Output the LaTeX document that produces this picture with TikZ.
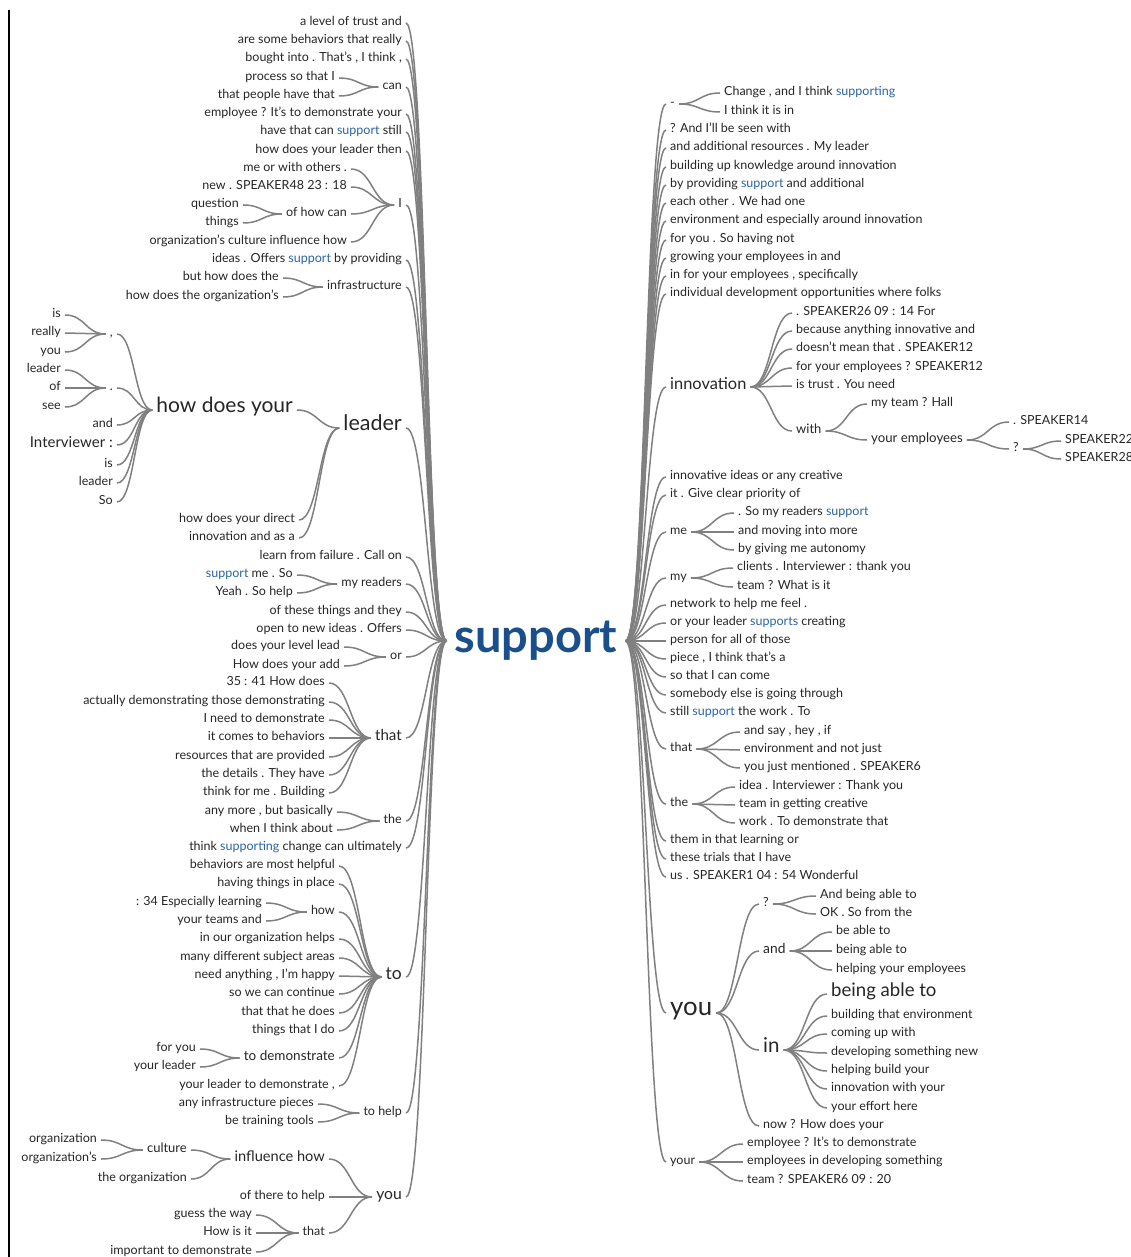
\documentclass[tikz,border=0pt]{standalone}
\usepackage{fontspec}
\setmainfont{Lato}
\usetikzlibrary{calc}
\definecolor{ink}{HTML}{262626}
\definecolor{hubblue}{HTML}{1B4F8C}
\definecolor{hlblue}{HTML}{2A64A4}
\definecolor{edgegray}{HTML}{808080}
\newcommand\hl[1]{\textcolor{hlblue}{#1}}
% S-shaped branch between two anchors, horizontal tangents at both ends
\newcommand\wl[2]{\draw[branch] let \p1=(#1), \p2=(#2) in (\p1) .. controls ({(\x1+\x2)/2},\y1) and ({(\x1+\x2)/2},\y2) .. (\p2);}
\tikzset{
  base/.style={inner xsep=4pt, inner ysep=0pt, text=ink, text height=0.72em, text depth=0.2em, font=\fontsize{12.5}{12.5}\selectfont},
  L/.style={base, anchor=east},
  R/.style={base, anchor=west},
  sz/.style={font=\fontsize{#1}{#1}\selectfont},
  branch/.style={draw=edgegray, line width=1.5pt},
}
\begin{document}
\begin{tikzpicture}[x=1pt,y=-1pt]
\fill[white] (0,0) rectangle (1131,1257);
\useasboundingbox (0,0) rectangle (1131,1257);
\draw[line width=1.5pt] (9,10) -- (9,1257);

% root
\node[inner xsep=8pt, inner ysep=0pt, text=hubblue, font=\fontsize{47}{47}\selectfont\bfseries] (S) at (536,641) {support};

% ---------------- left side ----------------
\node[L] (a1) at (406,23) {a level of trust and};
\node[L] (a2) at (406,41) {are some behaviors that really};
\node[L] (a3) at (406,59) {bought into . That's , I think ,};
\node[L] (can) at (406,87) {can};
\node[L] (can1) at (339,78) {process so that I};
\node[L] (can2) at (339,96) {that people have that};
\node[L] (a4) at (406,114) {employee ? It's to demonstrate your};
\node[L] (a5) at (406,132) {have that can \hl{support} still};
\node[L] (a6) at (406,151) {how does your leader then};
\node[L] (I) at (406,205) {I};
\node[L] (I1) at (351,169) {me or with others .};
\node[L] (I2) at (351,187) {new . SPEAKER48 23 : 18};
\node[L] (ohc) at (351,214) {of how can};
\node[L] (ohc1) at (243,205) {question};
\node[L] (ohc2) at (243,223) {things};
\node[L] (I4) at (351,242) {organization's culture influence how};
\node[L] (a7) at (406,260) {ideas . Offers \hl{support} by providing};
\node[L] (inf) at (406,287) {infrastructure};
\node[L] (inf1) at (283,278) {but how does the};
\node[L] (inf2) at (283,297) {how does the organization's};
\node[L,sz=21.5] (ldr) at (406,428) {leader};
\node[L,sz=21] (hdy) at (297,410) {how does your};
\node[L] (ldr2) at (299,520) {how does your direct};
\node[L] (ldr3) at (299,538) {innovation and as a};
\node[L] (cm) at (117,334) {,};
\node[L] (cm1) at (65,315) {is};
\node[L] (cm2) at (65,333) {really};
\node[L] (cm3) at (65,352) {you};
\node[L] (dt) at (117,388) {.};
\node[L] (dt1) at (65,370) {leader};
\node[L] (dt2) at (65,388) {of};
\node[L] (dt3) at (65,407) {see};
\node[L] (h3) at (117,425) {and};
\node[L,sz=15] (h4) at (117,445) {Interviewer :};
\node[L] (h5) at (117,465) {is};
\node[L] (h6) at (117,483) {leader};
\node[L] (h7) at (117,502) {So};
\node[L] (a8) at (406,557) {learn from failure . Call on};
\node[L] (myr) at (406,584) {my readers};
\node[L] (myr1) at (297,575) {\hl{support} me . So};
\node[L] (myr2) at (297,593) {Yeah . So help};
\node[L] (a9) at (406,612) {of these things and they};
\node[L] (a10) at (406,630) {open to new ideas . Offers};
\node[L] (or) at (406,657) {or};
\node[L] (or1) at (344,647) {does your level lead};
\node[L] (or2) at (344,666) {How does your add};
\node[L,sz=15.1] (th) at (406,738) {that};
\node[L] (th1) at (329,683) {35 : 41 How does};
\node[L] (th2) at (329,702) {actually demonstrating those demonstrating};
\node[L] (th3) at (329,720) {I need to demonstrate};
\node[L] (th4) at (329,738) {it comes to behaviors};
\node[L] (th5) at (329,757) {resources that are provided};
\node[L] (th6) at (329,775) {the details . They have};
\node[L] (th7) at (329,793) {think for me . Building};
\node[L] (the) at (406,821) {the};
\node[L] (the1) at (337,812) {any more , but basically};
\node[L] (the2) at (337,830) {when I think about};
\node[L] (a11) at (406,848) {think \hl{supporting} change can ultimately};
\node[L,sz=17.5] (to) at (406,977) {to};
\node[L] (to1) at (339,866) {behaviors are most helpful};
\node[L] (to2) at (339,884) {having things in place};
\node[L] (how) at (339,912) {how};
\node[L] (how1) at (266,903) {: 34 Especially learning};
\node[L] (how2) at (266,921) {your teams and};
\node[L] (to4) at (339,939) {in our organization helps};
\node[L] (to5) at (339,958) {many different subject areas};
\node[L] (to6) at (339,976) {need anything , I'm happy};
\node[L] (to7) at (339,994) {so we can continue};
\node[L] (to8) at (339,1013) {that that he does};
\node[L] (to9) at (339,1031) {things that I do};
\node[L,sz=13.5] (tdm) at (339,1058) {to demonstrate};
\node[L] (tdm1) at (200,1049) {for you};
\node[L] (tdm2) at (200,1067) {your leader};
\node[L] (to11) at (339,1086) {your leader to demonstrate ,};
\node[L] (thp) at (406,1113) {to help};
\node[L] (thp1) at (318,1104) {any infrastructure pieces};
\node[L] (thp2) at (318,1122) {be training tools};
\node[L,sz=15.7] (you) at (406,1197) {you};
\node[L,sz=14.6] (infl) at (329,1159) {influence how};
\node[L,sz=13] (cult) at (191,1150) {culture};
\node[L] (cult1) at (101,1140) {organization};
\node[L] (cult2) at (101,1159) {organization's};
\node[L] (infl2) at (191,1179) {the organization};
\node[L] (you2) at (329,1197) {of there to help};
\node[L] (tht) at (329,1233) {that};
\node[L] (tht1) at (256,1215) {guess the way};
\node[L] (tht2) at (256,1233) {How is it};
\node[L] (tht3) at (256,1252) {important to demonstrate};

% left branches
\foreach \k in {a1,a2,a3,can,a4,a5,a6,I,a7,inf,ldr,a8,myr,a9,a10,or,th,the,a11,to,thp,you}
  {\wl{\k.east}{S.west}}
\foreach \k in {can1,can2} {\wl{\k.east}{can.west}}
\foreach \k in {I1,I2,ohc,I4} {\wl{\k.east}{I.west}}
\foreach \k in {ohc1,ohc2} {\wl{\k.east}{ohc.west}}
\foreach \k in {inf1,inf2} {\wl{\k.east}{inf.west}}
\foreach \k in {hdy,ldr2,ldr3} {\wl{\k.east}{ldr.west}}
\foreach \k in {cm,dt,h3,h4,h5,h6,h7} {\wl{\k.east}{hdy.west}}
\foreach \k in {cm1,cm2,cm3} {\wl{\k.east}{cm.west}}
\foreach \k in {dt1,dt2,dt3} {\wl{\k.east}{dt.west}}
\foreach \k in {myr1,myr2} {\wl{\k.east}{myr.west}}
\foreach \k in {or1,or2} {\wl{\k.east}{or.west}}
\foreach \k in {th1,th2,th3,th4,th5,th6,th7} {\wl{\k.east}{th.west}}
\foreach \k in {the1,the2} {\wl{\k.east}{the.west}}
\foreach \k in {to1,to2,how,to4,to5,to6,to7,to8,to9,tdm,to11} {\wl{\k.east}{to.west}}
\foreach \k in {how1,how2} {\wl{\k.east}{how.west}}
\foreach \k in {tdm1,tdm2} {\wl{\k.east}{tdm.west}}
\foreach \k in {thp1,thp2} {\wl{\k.east}{thp.west}}
\foreach \k in {infl,you2,tht} {\wl{\k.east}{you.west}}
\foreach \k in {cult,infl2} {\wl{\k.east}{infl.west}}
\foreach \k in {cult1,cult2} {\wl{\k.east}{cult.west}}
\foreach \k in {tht1,tht2,tht3} {\wl{\k.east}{tht.west}}

% ---------------- right side ----------------
\node[R] (r0) at (666,104) {-};
\node[R] (r01) at (720,93) {Change , and I think \hl{supporting}};
\node[R] (r02) at (720,112) {I think it is in};
\node[R] (r1) at (666,130) {? And I'll be seen with};
\node[R] (r2) at (666,148) {and additional resources . My leader};
\node[R] (r3) at (666,167) {building up knowledge around innovation};
\node[R] (r4) at (666,185) {by providing \hl{support} and additional};
\node[R] (r5) at (666,203) {each other . We had one};
\node[R] (r6) at (666,221) {environment and especially around innovation};
\node[R] (r7) at (666,240) {for you . So having not};
\node[R] (r8) at (666,258) {growing your employees in and};
\node[R] (r9) at (666,276) {in for your employees , specifically};
\node[R] (r10) at (666,294) {individual development opportunities where folks};
\node[R,sz=16.4] (inno) at (666,387) {innovation};
\node[R] (inno1) at (792,313) {. SPEAKER26 09 : 14 For};
\node[R] (inno2) at (792,331) {because anything innovative and};
\node[R] (inno3) at (792,349) {doesn't mean that . SPEAKER12};
\node[R] (inno4) at (792,368) {for your employees ? SPEAKER12};
\node[R] (inno5) at (792,386) {is trust . You need};
\node[R,sz=13] (with) at (792,431) {with};
\node[R] (with1) at (867,404) {my team ? Hall};
\node[R,sz=13.2] (yemp) at (867,440) {your employees};
\node[R] (yemp1) at (1009,422) {. SPEAKER14};
\node[R] (q) at (1009,449) {?};
\node[R] (q1) at (1061,441) {SPEAKER22};
\node[R] (q2) at (1061,459) {SPEAKER28};
\node[R] (r11) at (666,477) {innovative ideas or any creative};
\node[R] (r12) at (666,495) {it . Give clear priority of};
\node[R] (me) at (666,532) {me};
\node[R] (me1) at (734,513) {. So my readers \hl{support}};
\node[R] (me2) at (734,532) {and moving into more};
\node[R] (me3) at (734,550) {by giving me autonomy};
\node[R] (my) at (666,578) {my};
\node[R] (my1) at (733,568) {clients . Interviewer : thank you};
\node[R] (my2) at (733,587) {team ? What is it};
\node[R] (r13) at (666,605) {network to help me feel .};
\node[R] (r14) at (666,623) {or your leader \hl{supports} creating};
\node[R] (r15) at (666,641) {person for all of those};
\node[R] (r16) at (666,659) {piece , I think that's a};
\node[R] (r17) at (666,677) {so that I can come};
\node[R] (r18) at (666,695) {somebody else is going through};
\node[R] (r19) at (666,713) {still \hl{support} the work . To};
\node[R] (rth) at (666,749) {that};
\node[R] (rth1) at (740,732) {and say , hey , if};
\node[R] (rth2) at (740,750) {environment and not just};
\node[R] (rth3) at (740,768) {you just mentioned . SPEAKER6};
\node[R] (rthe) at (666,804) {the};
\node[R] (rthe1) at (735,787) {idea . Interviewer : Thank you};
\node[R] (rthe2) at (735,805) {team in getting creative};
\node[R] (rthe3) at (735,823) {work . To demonstrate that};
\node[R] (r20) at (666,841) {them in that learning or};
\node[R] (r21) at (666,859) {these trials that I have};
\node[R] (r22) at (666,877) {us . SPEAKER1 04 : 54 Wonderful};
\node[R,sz=25.8] (ryou) at (666,1013) {you};
\node[R] (rq) at (759,904) {?};
\node[R] (rq1) at (816,896) {And being able to};
\node[R] (rq2) at (816,914) {OK . So from the};
\node[R,sz=13.8] (rand) at (759,951) {and};
\node[R] (rand1) at (832,932) {be able to};
\node[R] (rand2) at (832,951) {being able to};
\node[R] (rand3) at (832,970) {helping your employees};
\node[R,sz=20.5] (rin) at (759,1050) {in};
\node[R,sz=18.6] (rin1) at (827,994) {being able to};
\node[R] (rin2) at (827,1016) {building that environment};
\node[R] (rin3) at (827,1034) {coming up with};
\node[R] (rin4) at (827,1053) {developing something new};
\node[R] (rin5) at (827,1071) {helping build your};
\node[R] (rin6) at (827,1089) {innovation with your};
\node[R] (rin7) at (827,1108) {your effort here};
\node[R] (rnow) at (759,1126) {now ? How does your};
\node[R] (ryour) at (666,1162) {your};
\node[R] (ryour1) at (743,1144) {employee ? It's to demonstrate};
\node[R] (ryour2) at (743,1162) {employees in developing something};
\node[R] (ryour3) at (743,1181) {team ? SPEAKER6 09 : 20};

% right branches
\foreach \k in {r0,r1,r2,r3,r4,r5,r6,r7,r8,r9,r10,inno,r11,r12,me,my,r13,r14,r15,r16,r17,r18,r19,rth,rthe,r20,r21,r22,ryou,ryour}
  {\wl{S.east}{\k.west}}
\foreach \k in {r01,r02} {\wl{r0.east}{\k.west}}
\foreach \k in {inno1,inno2,inno3,inno4,inno5,with} {\wl{inno.east}{\k.west}}
\foreach \k in {with1,yemp} {\wl{with.east}{\k.west}}
\foreach \k in {yemp1,q} {\wl{yemp.east}{\k.west}}
\foreach \k in {q1,q2} {\wl{q.east}{\k.west}}
\foreach \k in {me1,me2,me3} {\wl{me.east}{\k.west}}
\foreach \k in {my1,my2} {\wl{my.east}{\k.west}}
\foreach \k in {rth1,rth2,rth3} {\wl{rth.east}{\k.west}}
\foreach \k in {rthe1,rthe2,rthe3} {\wl{rthe.east}{\k.west}}
\foreach \k in {rq,rand,rin,rnow} {\wl{ryou.east}{\k.west}}
\foreach \k in {rq1,rq2} {\wl{rq.east}{\k.west}}
\foreach \k in {rand1,rand2,rand3} {\wl{rand.east}{\k.west}}
\foreach \k in {rin1,rin2,rin3,rin4,rin5,rin6,rin7} {\wl{rin.east}{\k.west}}
\foreach \k in {ryour1,ryour2,ryour3} {\wl{ryour.east}{\k.west}}
\end{tikzpicture}
\end{document}
